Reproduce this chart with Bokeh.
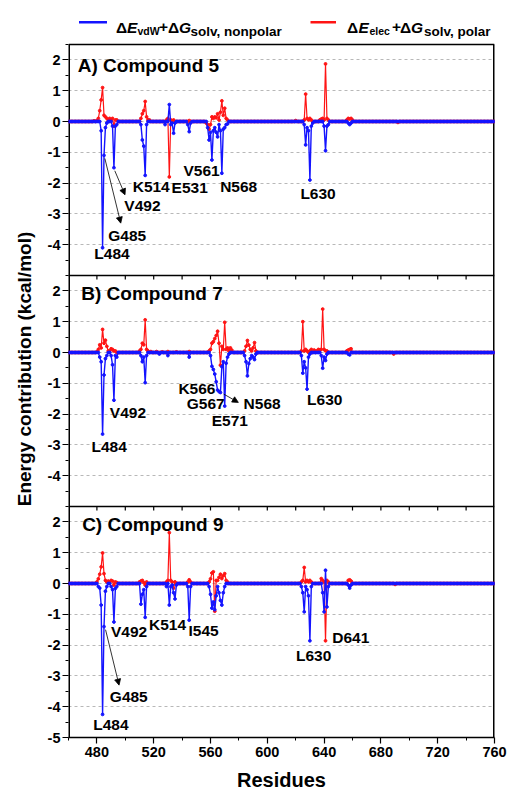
from bokeh.plotting import figure
from bokeh.models import (Range1d, FixedTicker, Arrow, NormalHead, ColumnDataSource, Span, Title)
from bokeh.core.properties import value
from bokeh.embed import file_html
from bokeh.resources import INLINE

FONT = "Liberation Sans"
BLUE = "#1414ff"
RED = "#ff1414"

# ---------------- data ----------------
residues = list(range(460, 761))

c5_nonpolar = {483: -0.3, 484: -4.1, 485: -1.1, 486: -0.2, 487: -0.05, 491: -0.15, 492: -1.5, 493: -0.15,
               494: -0.1, 511: -0.1, 512: -0.6, 513: -0.8, 514: -1.75, 515: -0.1, 528: -0.1, 531: 0.55,
               532: -0.1, 533: -0.05, 534: -0.38, 535: -0.05, 544: -0.1, 545: -0.33, 546: -0.05, 558: -0.2,
               559: -0.6, 560: -0.35, 561: -1.25, 562: -0.3, 563: -0.2, 564: -0.35, 565: -0.5, 566: -0.1,
               567: -0.3, 568: -1.68, 569: -0.25, 570: -0.2, 571: -0.1, 572: -0.08, 626: -0.1, 627: -0.76,
               628: -0.2, 629: -0.3, 630: -1.9, 631: -0.15, 632: -0.05, 640: -0.15, 641: -0.95, 642: -0.15,
               643: -0.1, 657: -0.05, 658: -0.1, 659: -0.05}
c5_polar = {478: 0.02, 480: 0.03, 481: 0.1, 482: 0.35, 483: 0.7, 484: 1.1, 485: 0.2, 486: 0.15, 487: 0.1,
            488: 0.05, 489: 0.1, 490: 0.05, 491: 0.1, 492: -0.15, 493: 0.05, 494: 0.05, 511: 0.1, 512: 0.25,
            513: 0.35, 514: 0.65, 515: 0.15, 516: 0.05, 517: 0.05, 529: 0.05, 530: 0.1, 531: -1.8, 532: 0.05,
            534: 0.05, 545: 0.03, 557: -0.05, 558: -0.1, 559: -0.25, 560: -0.1, 561: 0.15, 562: 0.1, 563: 0.15,
            564: 0.12, 565: 0.25, 566: 0.05, 567: 0.3, 568: 0.67, 569: 0.2, 570: 0.43, 571: 0.1, 572: 0.05,
            620: 0.03, 626: 0.05, 627: 0.89, 628: 0.1, 629: 0.05, 630: 0.1, 631: 0.05, 637: 0.05, 638: 0.08,
            639: 0.1, 640: 0.05, 641: 1.87, 642: 0.1, 643: 0.05, 656: 0.05, 657: 0.1, 658: 0.08, 659: 0.1,
            660: 0.05, 692: -0.03}

c7_nonpolar = {482: -0.15, 483: -0.3, 484: -2.65, 485: -0.73, 486: -0.2, 487: -0.1, 490: -0.1, 491: -0.4,
               492: -1.55, 493: -0.1, 494: -0.15, 511: -0.1, 512: -0.3, 513: -0.15, 514: -0.98, 515: -0.1,
               524: -0.05, 530: -0.1, 545: -0.15, 560: -0.1, 561: -0.45, 562: -0.55, 563: -0.7, 564: -0.95,
               565: -1.22, 566: -1.27, 567: -1.3, 568: -0.46, 569: -0.3, 570: -1.74, 571: -0.35, 572: -0.15,
               573: -0.05, 584: -0.1, 585: -0.3, 586: -0.76, 587: -0.36, 588: -0.2, 589: -0.1, 590: -0.15,
               591: -0.23, 592: -0.05, 624: -0.1, 625: -0.67, 626: -0.3, 627: -0.5, 628: -1.19, 629: -0.15,
               630: -0.05, 638: -0.1, 639: -0.51, 640: -0.15, 641: -0.26, 642: -0.05, 657: -0.05, 658: -0.08}
c7_polar = {480: 0.02, 481: 0.1, 482: 0.25, 483: 0.15, 484: 0.75, 485: 0.3, 486: 0.4, 487: 0.2, 488: 0.05,
            489: 0.05, 490: 0.12, 491: 0.1, 492: 0.05, 493: 0.05, 510: 0.05, 511: 0.1, 512: 0.3, 513: 0.25,
            514: 1.06, 515: 0.1, 516: 0.05, 518: 0.03, 522: 0.03, 526: 0.02, 530: 0.03, 536: 0.02, 545: 0.03,
            559: 0.05, 560: 0.1, 561: 0.3, 562: 0.35, 563: 0.45, 564: 0.55, 565: 0.69, 566: 0.3, 567: -0.41,
            568: 0.2, 569: 0.1, 570: 0.98, 571: 0.1, 572: 0.15, 573: 0.05, 574: 0.15, 575: 0.08, 584: 0.05,
            585: 0.2, 586: 0.39, 587: 0.24, 588: 0.1, 589: 0.05, 590: 0.15, 591: 0.32, 592: 0.05, 624: 0.05,
            625: 1.0, 626: 0.05, 627: 0.1, 628: 0.05, 630: 0.05, 631: 0.1, 633: 0.08, 635: 0.05, 636: 0.1,
            637: 0.08, 638: 0.1, 639: 1.41, 640: 0.1, 641: 0.05, 642: 0.05, 656: 0.05, 657: 0.08, 658: 0.1,
            659: 0.12, 689: -0.05}

c9_nonpolar = {481: -0.1, 482: -0.15, 483: -0.7, 484: -4.25, 485: -1.4, 486: -0.25, 487: -0.1, 490: -0.1,
               491: -0.2, 492: -1.25, 493: -0.16, 494: -0.1, 511: -0.67, 512: -0.35, 513: -0.2, 514: -1.1,
               515: -0.1, 529: -0.1, 531: -0.7, 532: -0.1, 533: -0.05, 534: -0.3, 535: -0.5, 536: -0.05,
               544: -0.1, 545: -1.19, 546: -0.1, 559: -0.1, 560: -0.35, 561: -0.8, 562: -0.6, 563: -0.85,
               564: -0.4, 565: -0.1, 566: -0.3, 567: -0.55, 568: -0.7, 569: -0.3, 570: -0.1, 624: -0.1,
               625: -0.3, 626: -0.92, 627: -0.1, 628: -0.2, 629: -0.4, 630: -1.86, 631: -0.1, 639: -0.3,
               640: -0.92, 641: 0.43, 642: -0.76, 643: -0.1, 657: -0.05, 658: -0.15, 659: -0.05}
c9_polar = {480: 0.05, 481: 0.15, 482: 0.3, 483: 0.54, 484: 0.99, 485: 0.32, 486: 0.1, 487: 0.05, 488: 0.08,
            489: 0.05, 490: 0.1, 491: 0.08, 492: -0.05, 493: 0.05, 494: 0.03, 510: 0.05, 511: 0.08, 512: 0.1,
            513: 0.03, 514: -0.05, 515: 0.05, 529: 0.05, 530: 0.1, 531: 1.65, 532: 0.1, 533: 0.05, 534: -0.15,
            535: 0.05, 544: 0.05, 545: 0.12, 546: 0.05, 559: 0.05, 560: 0.15, 561: 0.34, 562: 0.38, 563: -0.9,
            564: 0.1, 565: 0.1, 566: 0.2, 567: 0.3, 568: 0.16, 569: 0.25, 570: 0.32, 571: 0.1, 572: 0.05,
            624: 0.05, 625: 0.1, 626: 0.52, 627: 0.05, 628: 0.1, 629: 0.05, 630: 0.1, 631: 0.05, 638: 0.16,
            639: 0.1, 640: 0.05, 641: -1.86, 642: 0.1, 643: 0.05, 657: 0.1, 658: 0.12, 659: 0.08, 690: -0.03}

x_ticks = [480, 520, 560, 600, 640, 680, 720, 760]
x_minor = [460, 500, 540, 580, 620, 660, 700, 740]
y_ticks_upper = [-4, -3, -2, -1, 0, 1, 2]
y_ticks_lower = [-5, -4, -3, -2, -1, 0, 1, 2]

titles = ["A) Compound 5", "B) Compound 7", "C) Compound 9"]
labels_A = ["L484", "G485", "V492", "K514", "E531", "V561", "N568", "L630"]
labels_B = ["L484", "V492", "K566", "G567", "N568", "E571", "L630"]
labels_C = ["L484", "G485", "V492", "K514", "I545", "L630", "D641"]
legend_texts = ["ΔE", "vdW", "ΔG", "solv, nonpolar", "ΔE", "elec", "ΔG", "solv, polar"]

# ---------------- geometry ----------------
X0, X1 = 460, 760
PANEL_H = 231
LEG_H = 44                    # legend strip, kept inside the frame above panel A
FW, FH = 426, 3 * PANEL_H + LEG_H
LEFT, RIGHT, BOTTOM = 68, 14, 55
SPAN = 7.5                    # each panel shows -5 .. 2.5
PX_PER_UNIT = PANEL_H / SPAN
PX_PER_RES = FW / (X1 - X0)
EXTRA = LEG_H / PX_PER_UNIT
OFFSETS = {"A": 2 * SPAN, "B": SPAN, "C": 0.0}
TOP_C = 2.5 + 2 * SPAN        # top of panel A in bottom-panel units

p = figure(frame_width=FW, frame_height=FH, x_range=Range1d(X0, X1),
           y_range=Range1d(-5, TOP_C + EXTRA), output_backend="svg", toolbar_location=None,
           min_border_left=LEFT, min_border_right=RIGHT, min_border_top=0, min_border_bottom=BOTTOM)
p.extra_y_ranges = {"A": Range1d(-5 - 2 * SPAN, 2.5 + EXTRA),
                    "B": Range1d(-5 - SPAN, 2.5 + SPAN + EXTRA)}
p.background_fill_color = "white"
p.border_fill_color = "white"
p.outline_line_color = None
p.xgrid.visible = False

# y axis: one axis with the ticks of every panel, labelled in each panel's own values
major, minor, overrides = [], [], {}
for name, ticks in (("A", y_ticks_upper), ("B", y_ticks_upper), ("C", y_ticks_lower)):
    off = OFFSETS[name]
    for t in ticks:
        major.append(t + off)
        overrides[t + off] = str(t)
    for t in range(-5, 3):
        minor.append(t + 0.5 + off)
ya = p.yaxis[0]
ya.ticker = FixedTicker(ticks=major, minor_ticks=minor)
ya.major_label_overrides = overrides
ya.major_label_text_font = FONT
ya.major_label_text_font_style = "bold"
ya.major_label_text_font_size = "14.5px"
ya.major_label_text_color = "black"
ya.major_tick_out = 6
ya.major_tick_in = 0
ya.minor_tick_out = 3
ya.minor_tick_in = 0
ya.major_label_standoff = 2
ya.axis_line_color = None
ya.major_tick_line_width = 1.2
frame_center = FH / 2
p.add_layout(Title(text="Energy contribution (kcal/mol)", text_font=FONT, text_font_style="bold",
                   text_font_size="19px", text_color="black", align="center",
                   offset=-(393 - frame_center), standoff=20), "left")

p.ygrid.ticker = FixedTicker(ticks=major)
p.ygrid.grid_line_color = "#b8b8b8"
p.ygrid.grid_line_dash = "3 3"
p.ygrid.grid_line_width = 1

xa = p.xaxis[0]
xa.ticker = FixedTicker(ticks=x_ticks, minor_ticks=x_minor)
xa.major_label_text_font = FONT
xa.major_label_text_font_style = "bold"
xa.major_label_text_font_size = "14.5px"
xa.major_label_text_color = "black"
xa.major_tick_out = 6
xa.major_tick_in = 0
xa.minor_tick_out = 3
xa.minor_tick_in = 0
xa.major_label_standoff = 3
xa.axis_line_width = 1.5
xa.major_tick_line_width = 1.2
xa.axis_label = "Residues"
xa.axis_label_text_font = FONT
xa.axis_label_text_font_style = "bold"
xa.axis_label_text_font_size = "20px"
xa.axis_label_text_color = "black"
xa.axis_label_standoff = 9

# panel frame: top line, separators with inward ticks, left/right edges
inner_ticks = list(range(X0 + 20, X1, 20))
tick_len = 4 / PX_PER_UNIT
p.add_layout(Span(location=TOP_C, dimension="width", line_color="black", line_width=1.5))
for loc in (2.5, 2.5 + SPAN):
    p.add_layout(Span(location=loc, dimension="width", line_color="black", line_width=1.5))
    p.segment(x0=inner_ticks, y0=[loc] * len(inner_ticks), x1=inner_ticks,
              y1=[loc - tick_len] * len(inner_ticks), line_color="black", line_width=1.2)
p.segment(x0=[X0, X1], y0=[-5, -5], x1=[X0, X1], y1=[TOP_C, TOP_C], line_color="black", line_width=3)


def draw_panel(rname, title, pos_title, nonpolar, polar, lab_txt, lab_x, lab_y, arrows):
    kw = {} if rname == "C" else {"y_range_name": rname}
    src = ColumnDataSource(dict(res=residues,
                                nonpolar=[nonpolar.get(r, 0.0) for r in residues],
                                polar=[polar.get(r, 0.0) for r in residues]))
    p.line("res", "polar", source=src, color=RED, line_width=1.2, **kw)
    p.scatter("res", "polar", source=src, color=RED, size=2.8, **kw)
    p.line("res", "nonpolar", source=src, color=BLUE, line_width=1.4, **kw)
    p.scatter("res", "nonpolar", source=src, color=BLUE, size=2.8, **kw)
    p.text(x=[pos_title[0]], y=[pos_title[1]], text=[title], text_font=value(FONT),
           text_font_style="bold", text_font_size="19px", text_color="black",
           text_align="left", text_baseline="middle", **kw)
    p.text(x=lab_x, y=lab_y, text=lab_txt, text_font=value(FONT), text_font_style="bold",
           text_font_size="15.5px", text_color="black", text_align="left", text_baseline="middle", **kw)
    for (x0, y0, x1, y1) in arrows:
        p.add_layout(Arrow(end=NormalHead(size=6, fill_color="black", line_color="black", line_width=0.8),
                           x_start=x0, y_start=y0, x_end=x1, y_end=y1,
                           line_color="black", line_width=0.8, **kw))


draw_panel("A", titles[0], (466.5, 1.82), c5_nonpolar, c5_polar, labels_A,
           [478.2, 488.0, 499.3, 505.2, 532.6, 541.0, 566.8, 623.3],
           [-4.3, -3.7, -2.73, -2.1, -2.13, -1.58, -2.1, -2.33],
           [(485.6, -1.2, 496.8, -3.3), (492.6, -1.6, 499.8, -2.38)])
draw_panel("B", titles[1], (469.0, 1.9), c7_nonpolar, c7_polar, labels_B,
           [476.2, 489.1, 537.4, 543.3, 583.3, 560.9, 628.0],
           [-3.05, -1.94, -1.18, -1.67, -1.67, -2.21, -1.54],
           [(569.3, -1.35, 579.6, -1.62)])
draw_panel("C", titles[2], (469.6, 1.92), c9_nonpolar, c9_polar, labels_C,
           [477.4, 489.1, 489.9, 516.7, 544.5, 620.2, 645.7],
           [-4.57, -3.66, -1.57, -1.32, -1.54, -2.35, -1.76],
           [(486.1, -1.5, 495.6, -3.3)])

# ---------------- legend strip (page pixel layout -> data units) ----------------
FRAME_LEFT_PAGE, FRAME_TOP_PAGE = LEFT, 0


def gx(page_x):
    return X0 + (page_x - FRAME_LEFT_PAGE) / PX_PER_RES


def gy(page_y):
    return TOP_C + EXTRA - (page_y - FRAME_TOP_PAGE) / PX_PER_UNIT


for (xa0, xa1, col) in ((78.5, 106.5, BLUE), (310.0, 335.5, RED)):
    p.line([gx(xa0), gx(xa1)], [gy(21.7), gy(21.7)], line_color=col, line_width=2.5)

main_y, sub_y = gy(26.7), gy(30.6)
pieces = [  # (text, page_x, style, size, baseline)
    ("Δ", 115.5, "bold", "15.5px", main_y), ("E", 126.5, "bold italic", "15.5px", main_y),
    (legend_texts[1], 137.0, "bold", "10.5px", sub_y), ("+", 158.5, "bold", "15.5px", main_y),
    ("Δ", 167.5, "bold", "15.5px", main_y), ("G", 178.5, "bold italic", "15.5px", main_y),
    (legend_texts[3], 190.0, "bold", "13.5px", sub_y),
    ("Δ", 346.5, "bold", "15.5px", main_y), ("E", 358.0, "bold italic", "15.5px", main_y),
    (legend_texts[5], 369.0, "bold", "10.5px", sub_y), ("+", 391.5, "bold", "15.5px", main_y),
    ("Δ", 399.5, "bold", "15.5px", main_y), ("G", 410.5, "bold italic", "15.5px", main_y),
    (legend_texts[7], 423.5, "bold", "13.5px", sub_y),
]
for txt, px, style, size, yy in pieces:
    p.text(x=[gx(px)], y=[yy], text=[txt], text_font=value(FONT), text_font_style=style,
           text_font_size=size, text_color="black", text_align="left", text_baseline="alphabetic")

open("out.html", "w").write(file_html(p, INLINE))
